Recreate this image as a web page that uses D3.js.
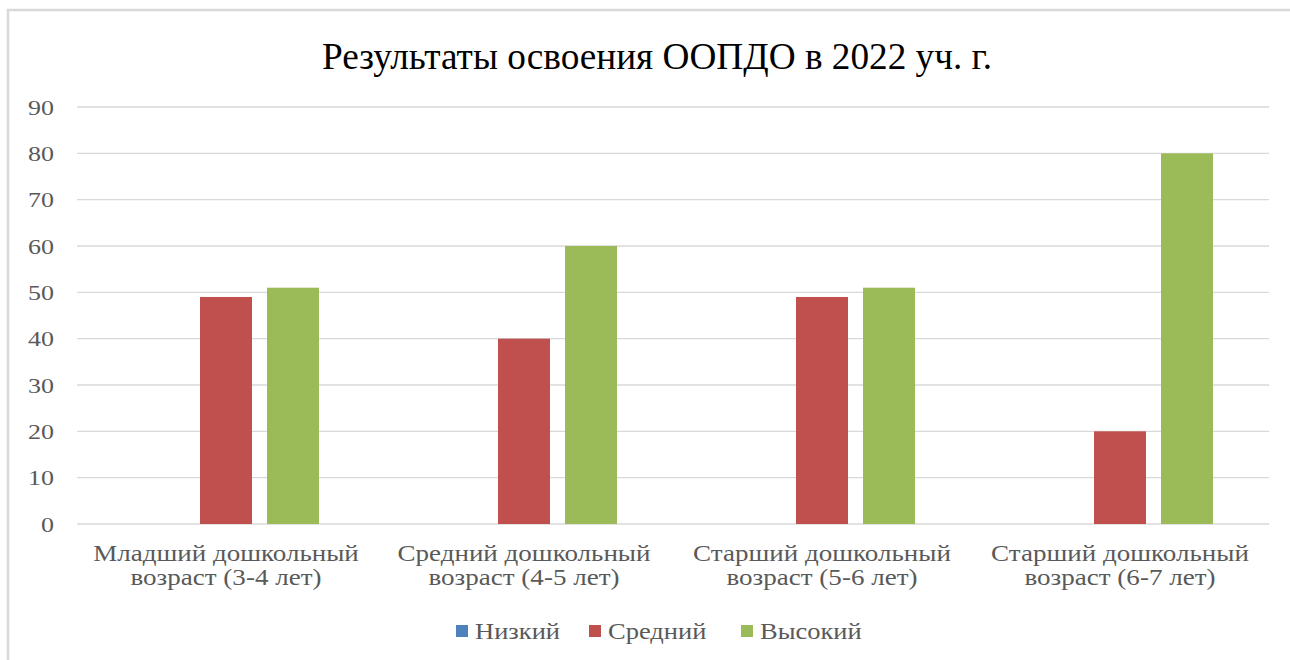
<!DOCTYPE html>
<html><head><meta charset="utf-8">
<script src="https://cdn.jsdelivr.net/npm/d3@7"></script>
<style>body{margin:0;background:#fff}svg{display:block}</style>
</head><body>
<script>
const title = "Результаты освоения ООПДО в 2022 уч. г.";
const categories = [
  ["Младший дошкольный","возраст (3-4 лет)"],
  ["Средний дошкольный","возраст (4-5 лет)"],
  ["Старший дошкольный","возраст (5-6 лет)"],
  ["Старший дошкольный","возраст (6-7 лет)"]
];
const seriesNames = ["Низкий","Средний","Высокий"];
const seriesColors = ["#4f81bd","#c0504d","#9bbb59"];
const low = [0,0,0,0];
const mid = [49,40,49,20];
const high = [51,60,51,80];
const yTicks = [0,10,20,30,40,50,60,70,80,90];

const W=1290,H=660;
const serif='"Liberation Serif"';
const svg=d3.select("body").append("svg").attr("width",W).attr("height",H);
svg.append("rect").attr("x",8).attr("y",10).attr("width",1300).attr("height",680)
  .attr("fill","#fff").attr("stroke","#d9d9d9").attr("stroke-width",2.5);

function stretchK(sel,k){
  sel.each(function(){
    const w=this.getComputedTextLength();
    d3.select(this).attr("textLength",w*k).attr("lengthAdjust","spacingAndGlyphs");
  });
}

const tt=svg.append("text").attr("x",657).attr("y",69).attr("text-anchor","middle")
  .style("font-family",serif).style("font-size","38px").attr("fill","#000").text(title);
stretchK(tt,670/tt.node().getComputedTextLength());

const x0=d3.scaleBand().domain(d3.range(categories.length)).range([77,1269]);
const y=d3.scaleLinear().domain([0,90]).range([524,107]);
const x1=d3.scaleBand().domain(d3.range(3)).range([0,x0.bandwidth()]).paddingInner(0.224).paddingOuter(0.836);

svg.append("g").selectAll("line").data(yTicks).join("line")
  .attr("x1",77).attr("x2",1269).attr("y1",d=>y(d)).attr("y2",d=>y(d))
  .attr("stroke","#d9d9d9").attr("stroke-width",1.4);

const yAxis=svg.append("g").attr("transform","translate(77,0)")
  .call(d3.axisLeft(y).tickValues(yTicks).tickSize(0).tickPadding(23));
yAxis.select(".domain").remove();
yAxis.selectAll("text").style("font-family",serif).style("font-size","20px").attr("fill","#595959")
  .attr("text-anchor","end").attr("x",0).attr("dy","0.35em")
  .attr("transform","translate(-23,0) scale(1.3,1)");

const data=[low,mid,high];
data.forEach((vals,si)=>{
  svg.append("g").selectAll("rect").data(vals).join("rect")
    .attr("x",(d,i)=>x0(i)+x1(si)).attr("width",x1.bandwidth())
    .attr("y",d=>y(d)).attr("height",d=>y(0)-y(d))
    .attr("fill",seriesColors[si]);
});

const cl=svg.append("g");
const lines=[];
categories.forEach((c,i)=>{
  const cx=x0(i)+x0.bandwidth()/2;
  [0,1].forEach(j=>{
    lines.push(cl.append("text").attr("text-anchor","middle").attr("x",cx).attr("y",561+24*j)
      .style("font-family",serif).style("font-size","24px").attr("fill","#595959").text(c[j]).node());
  });
});
const kCat=253/lines[2].getComputedTextLength();
stretchK(d3.selectAll(lines),kCat);

const legX=[456,589,741];
const lg=svg.append("g");
const legTexts=[];
seriesNames.forEach((n,i)=>{
  lg.append("rect").attr("x",legX[i]).attr("y",625).attr("width",12).attr("height",12).attr("fill",seriesColors[i]);
  legTexts.push(lg.append("text").attr("x",legX[i]+19).attr("y",639).style("font-family",serif)
    .style("font-size","23px").attr("fill","#595959").text(n).node());
});
const kLeg=85/legTexts[0].getComputedTextLength();
stretchK(d3.selectAll(legTexts),kLeg);
</script>
</body></html>
